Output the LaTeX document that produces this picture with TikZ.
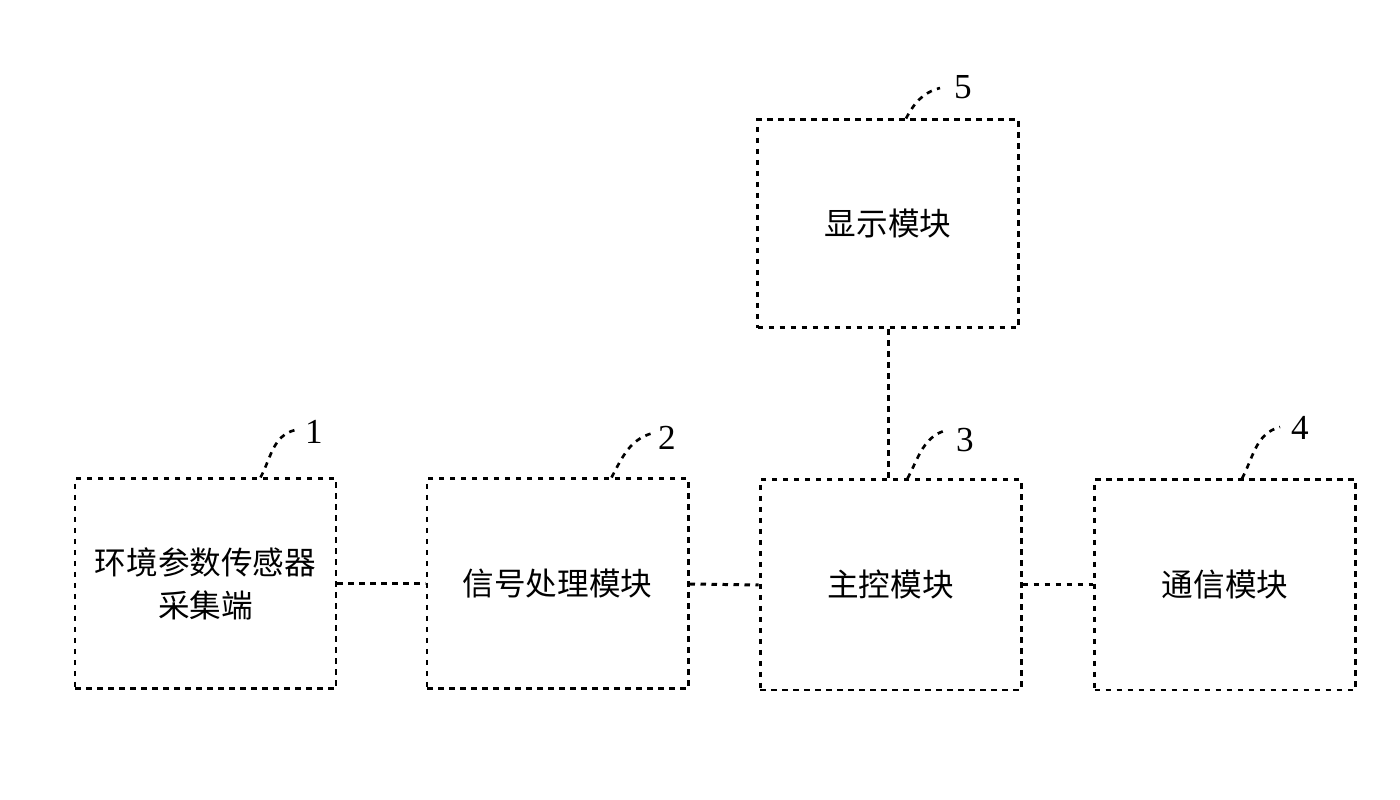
\documentclass[tikz,border=0pt]{standalone}
\usepackage{fontspec}
\newfontfamily\cjk{Noto Sans CJK SC}
\setmainfont{Liberation Serif}
\begin{document}
\begin{tikzpicture}[x=1cm,y=1cm,
  dline/.style={line width=0.85pt, dash pattern=on 0.55mm off 0.55mm},
  block/.style={dline, draw, minimum width=2.61cm, minimum height=2.1cm, inner sep=0pt, align=center, font=\cjk\fontsize{9}{12}\selectfont},
  tag/.style={font=\fontsize{10}{12}\selectfont, inner sep=0pt},
  leader/.style={dline, line width=0.75pt}]
\useasboundingbox (0,0) rectangle (14,8);
\node[block] (b1) at (2.055,2.16) {环境参数传感器\\采集端};
\node[block] (b2) at (5.575,2.16) {信号处理模块};
\node[block] (b3) at (8.905,2.15) {主控模块};
\node[block] (b4) at (12.25,2.15) {通信模块};
\node[block, minimum height=2.08cm] (b5) at (8.88,5.76) {显示模块};
\draw[dline] (b1.east) -- (b2.west);
\draw[dline] (b2.east) -- (b3.west);
\draw[dline] (b3.east) -- (b4.west);
\draw[dline] (b5.south) -- (b5.south |- b3.north);
% reference numerals
\coordinate (e1) at (2.95,3.70);
\coordinate (e2) at (6.53,3.67);
\coordinate (e3) at (9.47,3.70);
\coordinate (e4) at (12.80,3.73);
\coordinate (e5) at (9.40,7.12);
\node[tag] (t1) at (3.14,3.68) {1};
\node[tag] (t2) at (6.67,3.62) {2};
\node[tag] (t3) at (9.65,3.60) {3};
\node[tag] (t4) at (13.00,3.72) {4};
\node[tag] (t5) at (9.63,7.13) {5};
\draw[leader] ([xshift=1.87cm]b1.north west) to[out=62,in=195] (e1);
\draw[leader] ([xshift=1.86cm]b2.north west) to[out=62,in=195] (e2);
\draw[leader] ([xshift=1.49cm]b3.north west) to[out=62,in=195] (e3);
\draw[leader] ([xshift=1.49cm]b4.north west) to[out=62,in=195] (e4);
\draw[leader] ([xshift=1.50cm]b5.north west) to[out=62,in=195] (e5);
\end{tikzpicture}
\end{document}
